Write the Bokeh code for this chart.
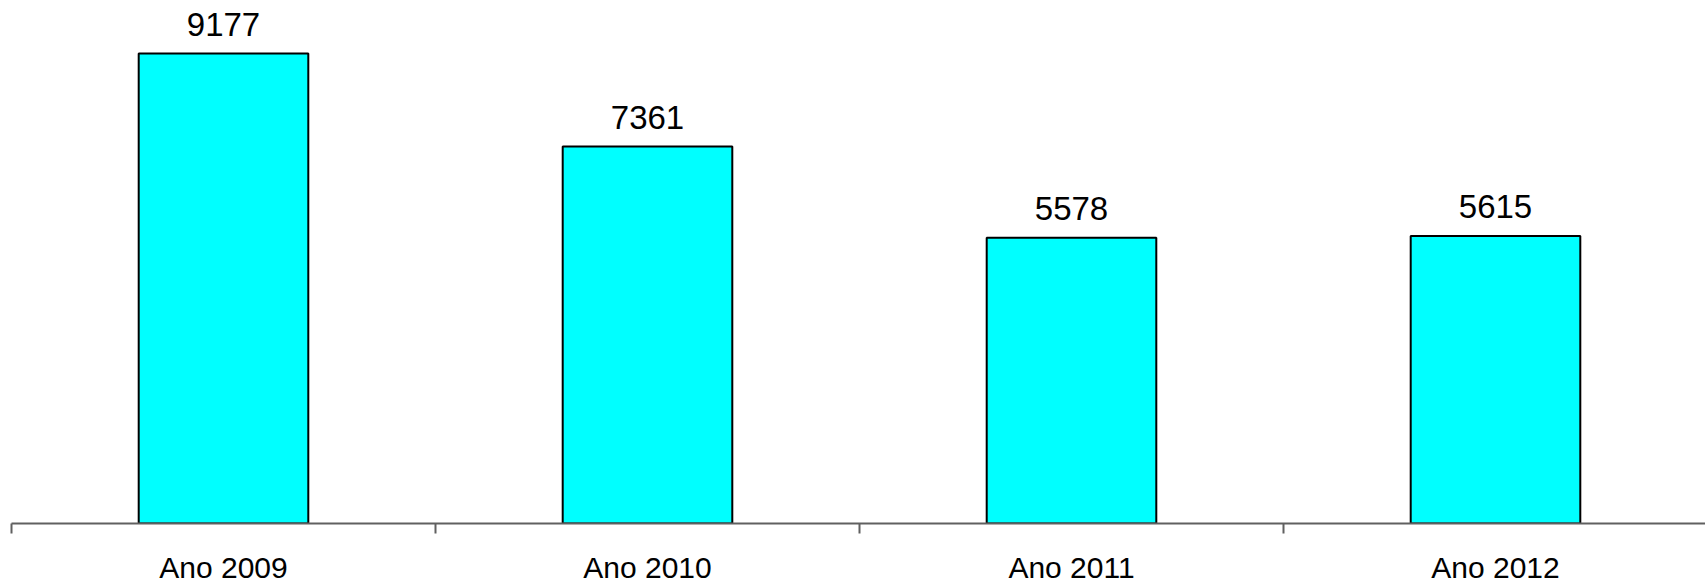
from bokeh.plotting import figure
from bokeh.models import ColumnDataSource, Range1d, FixedTicker
from bokeh.core.properties import value
from bokeh.embed import file_html
from bokeh.resources import INLINE

categories = ["Ano 2009", "Ano 2010", "Ano 2011", "Ano 2012"]
values = [9177, 7361, 5578, 5615]

xs = [i + 0.5 for i in range(len(categories))]
src = ColumnDataSource(dict(x=xs, top=values, label=[str(v) for v in values]))

p = figure(width=1705, height=586, output_backend="svg", toolbar_location=None,
           x_range=Range1d(0, 1694 / 424), y_range=Range1d(0, 10210),
           min_border_left=11, min_border_right=0, min_border_top=0, min_border_bottom=0)
p.outline_line_color = None
p.xgrid.visible = False
p.ygrid.visible = False
p.yaxis.visible = False

p.vbar(x="x", top="top", width=0.4, bottom=0, source=src,
       fill_color="#00FFFF", line_color="black", line_width=2)

p.text(x="x", y="top", text="label", source=src, text_align="center",
       text_baseline="alphabetic", y_offset=-29,
       text_font=value("Liberation Sans"), text_font_size="33px", text_color="black")

ax = p.xaxis[0]
ax.ticker = FixedTicker(ticks=xs, minor_ticks=list(range(len(categories) + 1)))
ax.major_label_overrides = {x: c for x, c in zip(xs, categories)}
ax.major_tick_line_color = None
ax.major_tick_out = 0
ax.major_tick_in = 0
ax.minor_tick_out = 10
ax.minor_tick_in = 0
ax.minor_tick_line_color = "#606060"
ax.minor_tick_line_width = 2
ax.axis_line_color = "#606060"
ax.axis_line_width = 2
ax.major_label_standoff = 17
ax.major_label_text_font = "Liberation Sans"
ax.major_label_text_font_size = "30px"
ax.major_label_text_color = "black"

open("out.html", "w").write(file_html(p, INLINE))
